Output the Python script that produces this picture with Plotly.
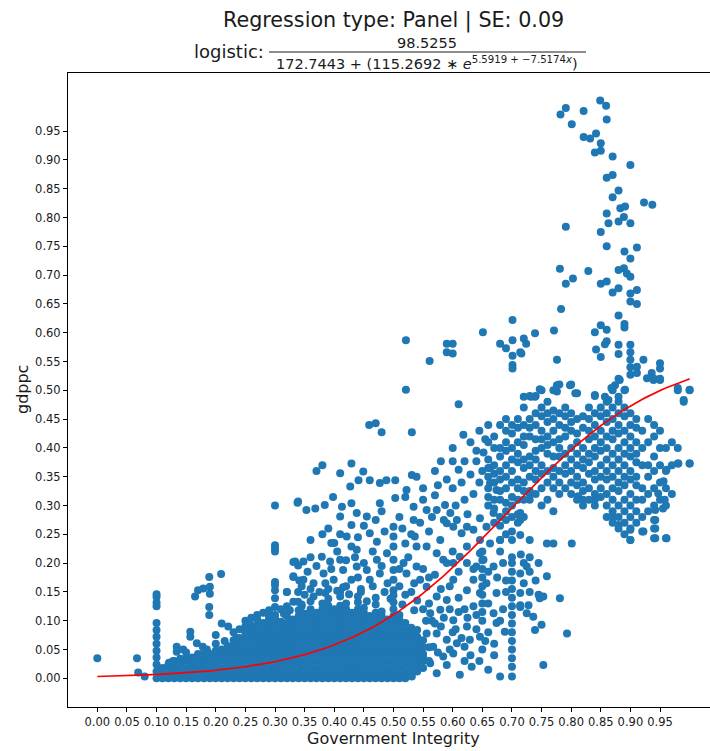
import numpy as np
import plotly.graph_objects as go

# ---------------- data ----------------
# isolated / scattered observations (Government Integrity, gdppc)
pts_x = [0.0, 0.067, 0.069, 0.08,
         0.121, 0.128, 0.134, 0.134, 0.145, 0.15, 0.157, 0.157, 0.165, 0.168, 0.17, 0.179, 0.189, 0.19, 0.19,
         0.189, 0.189, 0.209, 0.2, 0.21, 0.221, 0.23, 0.24, 0.235, 0.178, 0.2, 0.215, 0.25, 0.26, 0.27, 0.28,
         0.29, 0.255, 0.185, 0.227,
         0.30, 0.30, 0.30, 0.30, 0.30, 0.30, 0.30, 0.30, 0.30, 0.30,
         0.338, 0.331, 0.339, 0.32, 0.331, 0.341, 0.331, 0.339, 0.339, 0.31, 0.32, 0.315, 0.325, 0.345, 0.29,
         0.521, 0.61, 0.732, 0.459, 0.47, 0.48, 0.531, 0.618,
         0.521, 0.561, 0.59, 0.6, 0.59, 0.6, 0.651, 0.68, 0.69, 0.701, 0.701, 0.701, 0.701, 0.701, 0.714,
         0.72, 0.724, 0.716, 0.739, 0.771, 0.776,
         0.429, 0.41, 0.449, 0.58, 0.60, 0.62, 0.64, 0.61, 0.63, 0.652, 0.663, 0.66, 0.663, 0.674, 0.66, 0.38, 0.37,
         0.427, 0.441, 0.46, 0.477, 0.488, 0.503, 0.522, 0.531, 0.539, 0.55, 0.57,
         0.339, 0.353, 0.368, 0.384, 0.398, 0.413, 0.41, 0.429, 0.438, 0.455, 0.477, 0.503, 0.52, 0.534, 0.534,
         0.556, 0.573, 0.587, 0.596, 0.607, 0.624, 0.635, 0.646, 0.657, 0.669,
         0.429, 0.421, 0.429, 0.438, 0.46, 0.472, 0.5, 0.5, 0.5, 0.52, 0.536, 0.539, 0.556, 0.579, 0.59, 0.601,
         0.615, 0.624, 0.646, 0.646, 0.663, 0.68, 0.38, 0.39, 0.36, 0.40,
         0.334, 0.348, 0.379, 0.393, 0.41, 0.331, 0.348, 0.32, 0.365, 0.382, 0.399, 0.415, 0.429, 0.438, 0.455,
         0.46, 0.472, 0.477, 0.489, 0.5, 0.5, 0.5, 0.5, 0.517, 0.522, 0.539, 0.545, 0.556, 0.573, 0.584, 0.601,
         0.612, 0.624, 0.64, 0.652, 0.669, 0.714, 0.725, 0.601, 0.635, 0.657, 0.624, 0.646, 0.674, 0.714, 0.573,
         0.59, 0.36, 0.375, 0.39, 0.41, 0.42, 0.445, 0.465, 0.485, 0.51, 0.53, 0.35, 0.44, 0.52, 0.54, 0.55, 0.56,
         0.562, 0.579, 0.601, 0.624, 0.573, 0.59, 0.607, 0.629, 0.646, 0.669, 0.674, 0.714, 0.725, 0.68, 0.612,
         0.632, 0.531, 0.562, 0.584, 0.601, 0.567, 0.556, 0.55, 0.573, 0.59, 0.73, 0.747, 0.781, 0.714, 0.728,
         0.736, 0.75, 0.739, 0.793, 0.753, 0.688, 0.69, 0.69, 0.745, 0.753, 0.73, 0.759, 0.73, 0.759, 0.77, 0.801,
         0.72, 0.62, 0.64, 0.66, 0.61, 0.65, 0.67, 0.66, 0.63, 0.58, 0.565, 0.6, 0.62,
         0.849, 0.859, 0.791, 0.782, 0.821, 0.86, 0.801, 0.821, 0.832, 0.842, 0.85, 0.84, 0.85, 0.87, 0.9, 0.86,
         0.87, 0.88, 0.87, 0.923, 0.937, 0.883, 0.891, 0.86, 0.889, 0.88, 0.863, 0.9, 0.85, 0.791, 0.86, 0.89,
         0.9, 0.911, 0.781, 0.803, 0.829, 0.791, 0.88, 0.889, 0.894, 0.9, 0.85, 0.86, 0.87, 0.88, 0.9, 0.911,
         0.9, 0.911, 0.783, 0.88, 0.85, 0.86, 0.84, 0.89, 0.89, 0.86, 0.857, 0.842, 0.85, 0.88, 0.88, 0.9, 0.9,
         0.9, 0.9, 0.9, 0.911, 0.911, 0.922, 0.95, 0.95, 0.936, 0.928, 0.939, 0.95, 0.882, 0.874, 0.868, 0.891,
         0.98, 1.0, 0.99, 0.747, 0.72, 0.739, 0.776, 0.776, 0.798, 0.807, 0.84, 0.857, 0.863, 0.88, 0.981, 1.0,
         0.961, 0.956, 0.947, 0.958, 0.955, 0.942, 0.942, 0.942, 0.812, 0.82, 0.84, 0.87, 0.88, 0.9, 0.9, 0.922,
         0.942, 0.961, 0.714, 0.714, 0.714, 0.73, 0.75, 0.77, 0.76,
         0.355, 0.37, 0.385, 0.395, 0.405, 0.42, 0.435, 0.45, 0.465, 0.48, 0.49, 0.51, 0.525, 0.535, 0.55, 0.56,
         0.345, 0.36, 0.45, 0.47, 0.485, 0.515, 0.53, 0.545, 0.56, 0.44, 0.41, 0.395, 0.48, 0.51, 0.55, 0.565,
         0.555, 0.57, 0.585, 0.595, 0.61, 0.625, 0.635, 0.605, 0.615, 0.64, 0.655, 0.67, 0.68, 0.685, 0.675,
         0.685, 0.68, 0.66, 0.635, 0.61, 0.595, 0.58, 0.57, 0.59, 0.6, 0.575, 0.595, 0.62, 0.645, 0.66, 0.72,
         0.74, 0.715, 0.73, 0.745,
         0.575, 0.59, 0.6, 0.615, 0.62, 0.635, 0.645, 0.65, 0.64, 0.63, 0.645, 0.655, 0.66, 0.605, 0.625,
         0.585, 0.6, 0.57,
         0.365, 0.385, 0.405, 0.425, 0.445, 0.47, 0.495, 0.515, 0.345, 0.415, 0.455, 0.535]
pts_y = [0.035, 0.035, 0.01, 0.003,
         0.027, 0.03, 0.055, 0.046, 0.05, 0.045, 0.081, 0.072, 0.142, 0.061, 0.153, 0.156, 0.176, 0.159, 0.147,
         0.124, 0.11, 0.181, 0.075, 0.095, 0.09, 0.08, 0.085, 0.07, 0.055, 0.06, 0.065, 0.10, 0.105, 0.11, 0.114,
         0.108, 0.098, 0.05, 0.055,
         0.30, 0.231, 0.225, 0.22, 0.167, 0.162, 0.153, 0.139, 0.124, 0.11,
         0.305, 0.202, 0.196, 0.15, 0.176, 0.17, 0.133, 0.133, 0.15, 0.12, 0.125, 0.112, 0.118, 0.125, 0.118,
         0.501, 0.476, 0.489, 0.44, 0.443, 0.427, 0.427, 0.423,
         0.587, 0.551, 0.581, 0.581, 0.566, 0.564, 0.601, 0.581, 0.573, 0.622, 0.587, 0.56, 0.544, 0.538, 0.566,
         0.59, 0.581, 0.564, 0.599, 0.604, 0.553,
         0.373, 0.356, 0.359, 0.377, 0.377, 0.377, 0.377, 0.362, 0.354, 0.392, 0.365, 0.35, 0.339, 0.327, 0.315, 0.37, 0.36,
         0.333, 0.344, 0.344, 0.339, 0.344, 0.344, 0.327, 0.353, 0.35, 0.33, 0.318,
         0.307, 0.292, 0.295, 0.301, 0.315, 0.298, 0.281, 0.304, 0.287, 0.281, 0.304, 0.313, 0.315, 0.298, 0.275,
         0.292, 0.292, 0.301, 0.287, 0.275, 0.263, 0.258, 0.278, 0.263, 0.287,
         0.266, 0.246, 0.229, 0.223, 0.252, 0.237, 0.263, 0.246, 0.229, 0.234, 0.246, 0.229, 0.229, 0.24, 0.269, 0.263,
         0.252, 0.229, 0.217, 0.24, 0.234, 0.24, 0.25, 0.26, 0.24, 0.235,
         0.203, 0.203, 0.211, 0.203, 0.206, 0.177, 0.171, 0.15, 0.165, 0.182, 0.171, 0.188, 0.171, 0.194, 0.188,
         0.171, 0.206, 0.182, 0.217, 0.206, 0.188, 0.171, 0.153, 0.2, 0.182, 0.194, 0.171, 0.159, 0.217, 0.206, 0.2,
         0.211, 0.2, 0.194, 0.206, 0.194, 0.182, 0.194, 0.171, 0.171, 0.165, 0.153, 0.148, 0.148, 0.148, 0.142,
         0.136, 0.155, 0.15, 0.155, 0.15, 0.16, 0.155, 0.16, 0.15, 0.16, 0.15, 0.145, 0.175, 0.145, 0.135, 0.12, 0.13,
         0.113, 0.119, 0.101, 0.09, 0.078, 0.067, 0.061, 0.067, 0.072, 0.113, 0.096, 0.124, 0.113, 0.003, 0.006,
         0.02, 0.003, 0.026, 0.038, 0.043, 0.055, 0.078, 0.038, 0.009, 0.023, 0.15, 0.139, 0.139, 0.127, 0.127,
         0.107, 0.093, 0.084, 0.078, 0.023, 0.081, 0.15, 0.17, 0.145, 0.142, 0.185, 0.177, 0.24, 0.234, 0.234, 0.234,
         0.2, 0.12, 0.11, 0.13, 0.14, 0.05, 0.04, 0.08, 0.04, 0.09, 0.1, 0.08, 0.03,
         1.003, 0.994, 0.99, 0.979, 0.985, 0.97, 0.962, 0.94, 0.937, 0.946, 0.929, 0.913, 0.916, 0.906, 0.891, 0.869,
         0.874, 0.847, 0.835, 0.826, 0.822, 0.816, 0.819, 0.807, 0.801, 0.793, 0.79, 0.79, 0.775, 0.784, 0.75, 0.741,
         0.729, 0.748, 0.711, 0.694, 0.707, 0.685, 0.709, 0.712, 0.703, 0.697, 0.685, 0.689, 0.67, 0.677, 0.668, 0.674,
         0.654, 0.65, 0.641, 0.63, 0.613, 0.605, 0.601, 0.609, 0.615, 0.585, 0.58, 0.571, 0.558, 0.579, 0.563, 0.579, 0.566,
         0.553, 0.54, 0.527, 0.541, 0.53, 0.553, 0.547, 0.538, 0.53, 0.521, 0.518, 0.518, 0.518, 0.509, 0.504, 0.501,
         0.504, 0.501, 0.483, 0.502, 0.489, 0.489, 0.509, 0.498, 0.509, 0.495, 0.492, 0.489, 0.483, 0.489, 0.373, 0.373,
         0.362, 0.342, 0.321, 0.31, 0.295, 0.292, 0.275, 0.26, 0.316, 0.31, 0.31, 0.281, 0.266, 0.258, 0.24, 0.255,
         0.243, 0.243, 0.287, 0.275, 0.249, 0.32, 0.30, 0.29, 0.31,
         0.185, 0.195, 0.165, 0.19, 0.22, 0.205, 0.21, 0.2, 0.22, 0.195, 0.165, 0.19, 0.21, 0.165, 0.19, 0.175,
         0.16, 0.21, 0.265, 0.275, 0.255, 0.26, 0.25, 0.27, 0.255, 0.245, 0.25, 0.235, 0.29, 0.28, 0.31, 0.28,
         0.1, 0.095, 0.105, 0.12, 0.115, 0.105, 0.125, 0.085, 0.07, 0.085, 0.065, 0.06, 0.1, 0.12, 0.175,
         0.2, 0.22, 0.185, 0.19, 0.185, 0.16, 0.155, 0.18, 0.2, 0.22, 0.045, 0.05, 0.055, 0.03, 0.015, 0.165,
         0.17, 0.215, 0.21, 0.2,
         0.335, 0.345, 0.33, 0.34, 0.31, 0.32, 0.34, 0.36, 0.395, 0.41, 0.43, 0.415, 0.44, 0.3, 0.285,
         0.275, 0.4, 0.36,
         0.142, 0.148, 0.152, 0.146, 0.15, 0.14, 0.138, 0.128, 0.128, 0.158, 0.134, 0.118]

# vertical stripes of repeated integrity scores
stripe_x = [0.70, 0.65]
stripe_y = [[0.003, 0.02, 0.035, 0.05, 0.065, 0.08, 0.095, 0.11, 0.125, 0.14, 0.155, 0.17, 0.185, 0.2, 0.21],
            [0.1, 0.115, 0.13, 0.145, 0.16, 0.175, 0.19, 0.205, 0.22]]

# dense low band (integrity 0.10 - 0.56)
band_x = [0.10, 0.11, 0.12, 0.13, 0.14, 0.15, 0.16, 0.17, 0.18, 0.19, 0.20, 0.21, 0.22, 0.23, 0.24, 0.25,
          0.26, 0.27, 0.28, 0.29, 0.30, 0.31, 0.32, 0.33, 0.34, 0.35, 0.36, 0.37, 0.38, 0.39, 0.40, 0.41,
          0.42, 0.43, 0.44, 0.45, 0.46, 0.47, 0.48, 0.49, 0.50, 0.51, 0.52, 0.53, 0.54, 0.55, 0.56]
band_y = [
    [0.0, 0.012, 0.024, 0.036, 0.048, 0.06, 0.072, 0.084, 0.096, 0.125, 0.131, 0.141, 0.146],
    [0.0, 0.006, 0.018],
    [0.0, 0.012, 0.024],
    [0.0, 0.006, 0.018, 0.03],
    [0.0, 0.012, 0.024, 0.034],
    [0.0, 0.006, 0.018, 0.03, 0.036],
    [0.0, 0.012, 0.024, 0.036],
    [0.0, 0.006, 0.018, 0.03, 0.042],
    [0.0, 0.012, 0.024, 0.036, 0.045],
    [0.0, 0.006, 0.018, 0.03, 0.042],
    [0.0, 0.012, 0.024, 0.036, 0.048],
    [0.0, 0.006, 0.018, 0.03, 0.042, 0.05],
    [0.0, 0.012, 0.024, 0.036, 0.048, 0.056],
    [0.0, 0.006, 0.018, 0.03, 0.042, 0.054, 0.066],
    [0.0, 0.012, 0.024, 0.036, 0.048, 0.06, 0.07],
    [0.0, 0.006, 0.018, 0.03, 0.042, 0.054, 0.066, 0.078, 0.09],
    [0.0, 0.012, 0.024, 0.036, 0.048, 0.06, 0.072, 0.084, 0.092],
    [0.0, 0.006, 0.018, 0.03, 0.042, 0.054, 0.066, 0.078, 0.09, 0.102],
    [0.0, 0.012, 0.024, 0.036, 0.048, 0.06, 0.072, 0.084, 0.096],
    [0.0, 0.006, 0.018, 0.03, 0.042, 0.054, 0.066, 0.078, 0.09, 0.102, 0.108],
    [0.0, 0.012, 0.024, 0.036, 0.048, 0.06, 0.072, 0.084, 0.096, 0.104],
    [0.0, 0.006, 0.018, 0.03, 0.042, 0.054, 0.066, 0.078, 0.09, 0.098],
    [0.0, 0.012, 0.024, 0.036, 0.048, 0.06, 0.072, 0.084, 0.096, 0.108],
    [0.0, 0.006, 0.018, 0.03, 0.042, 0.054, 0.066, 0.078, 0.09, 0.102],
    [0.0, 0.012, 0.024, 0.036, 0.048, 0.06, 0.072, 0.084, 0.096, 0.108, 0.118],
    [0.0, 0.006, 0.018, 0.03, 0.042, 0.054, 0.066, 0.078, 0.09, 0.102, 0.112],
    [0.0, 0.012, 0.024, 0.036, 0.048, 0.06, 0.072, 0.084, 0.096, 0.108, 0.12, 0.134],
    [0.0, 0.006, 0.018, 0.03, 0.042, 0.054, 0.066, 0.078, 0.09, 0.102, 0.114],
    [0.0, 0.012, 0.024, 0.036, 0.048, 0.06, 0.072, 0.084, 0.096, 0.108, 0.12, 0.13],
    [0.0, 0.006, 0.018, 0.03, 0.042, 0.054, 0.066, 0.078, 0.09, 0.102, 0.114, 0.126, 0.138],
    [0.0, 0.012, 0.024, 0.036, 0.048, 0.06, 0.072, 0.084, 0.096, 0.108, 0.12],
    [0.0, 0.006, 0.018, 0.03, 0.042, 0.054, 0.066, 0.078, 0.09, 0.102, 0.114, 0.126, 0.142],
    [0.0, 0.012, 0.024, 0.036, 0.048, 0.06, 0.072, 0.084, 0.096, 0.108, 0.12, 0.13],
    [0.0, 0.006, 0.018, 0.03, 0.042, 0.054, 0.066, 0.078, 0.09, 0.102, 0.114],
    [0.0, 0.012, 0.024, 0.036, 0.048, 0.06, 0.072, 0.084, 0.096, 0.108, 0.12, 0.132, 0.142],
    [0.0, 0.006, 0.018, 0.03, 0.042, 0.054, 0.066, 0.078, 0.09, 0.102, 0.114, 0.122],
    [0.0, 0.012, 0.024, 0.036, 0.048, 0.06, 0.072, 0.084, 0.096, 0.108],
    [0.0, 0.006, 0.018, 0.03, 0.042, 0.054, 0.066, 0.078, 0.09, 0.102, 0.114, 0.128],
    [0.0, 0.012, 0.024, 0.036, 0.048, 0.06, 0.072, 0.084, 0.096, 0.108, 0.116],
    [0.0, 0.006, 0.018, 0.03, 0.042, 0.054, 0.066, 0.078, 0.09, 0.102],
    [0.0, 0.012, 0.024, 0.036, 0.048, 0.06, 0.072, 0.084, 0.096, 0.108, 0.12, 0.132, 0.144],
    [0.0, 0.006, 0.018, 0.03, 0.042, 0.054, 0.066, 0.078, 0.09, 0.102, 0.11],
    [0.0, 0.012, 0.024, 0.036, 0.048, 0.06, 0.072, 0.084, 0.096],
    [0.006, 0.018, 0.03, 0.042, 0.054, 0.066, 0.078, 0.088],
    [0.012, 0.024, 0.036, 0.048, 0.06, 0.072, 0.084],
    [0.018, 0.03, 0.042, 0.054, 0.066],
    [0.03, 0.054],
]

# dense upper-right cluster (integrity 0.66 - 1.00)
cluster_x = [0.66, 0.67, 0.68, 0.69, 0.70, 0.71, 0.72, 0.73, 0.74, 0.75, 0.76, 0.77, 0.78, 0.79, 0.80, 0.81,
             0.82, 0.83, 0.84, 0.85, 0.86, 0.87, 0.88, 0.89, 0.90, 0.91, 0.92, 0.93, 0.94, 0.95, 0.96, 0.97,
             0.98, 0.99, 1.00]
cluster_y = [
    [0.30, 0.33, 0.365, 0.38, 0.41],
    [0.27, 0.295, 0.31, 0.34, 0.355, 0.37, 0.40, 0.42],
    [0.24, 0.265, 0.28, 0.31, 0.325, 0.345, 0.36, 0.385, 0.40, 0.44],
    [0.25, 0.275, 0.29, 0.305, 0.33, 0.35, 0.37, 0.395, 0.41, 0.43, 0.45],
    [0.24, 0.255, 0.28, 0.30, 0.315, 0.34, 0.36, 0.38, 0.40, 0.425, 0.44],
    [0.27, 0.285, 0.31, 0.33, 0.345, 0.375, 0.39, 0.41, 0.435, 0.45],
    [0.28, 0.31, 0.325, 0.34, 0.365, 0.38, 0.405, 0.42, 0.44, 0.47],
    [0.31, 0.325, 0.35, 0.37, 0.385, 0.42, 0.435, 0.45, 0.49],
    [0.32, 0.345, 0.36, 0.38, 0.395, 0.415, 0.44, 0.46, 0.49],
    [0.33, 0.355, 0.37, 0.40, 0.415, 0.43, 0.455, 0.47, 0.50],
    [0.34, 0.36, 0.39, 0.405, 0.42, 0.445, 0.46, 0.48],
    [0.33, 0.35, 0.365, 0.385, 0.41, 0.43, 0.45, 0.465, 0.50],
    [0.32, 0.34, 0.36, 0.385, 0.40, 0.415, 0.44, 0.46, 0.51],
    [0.33, 0.355, 0.37, 0.39, 0.42, 0.435, 0.455, 0.47],
    [0.32, 0.34, 0.36, 0.38, 0.40, 0.43, 0.445, 0.46, 0.51],
    [0.31, 0.335, 0.35, 0.37, 0.39, 0.41, 0.425, 0.45, 0.495],
    [0.30, 0.325, 0.34, 0.365, 0.38, 0.40, 0.435, 0.455],
    [0.31, 0.33, 0.355, 0.375, 0.39, 0.415, 0.43, 0.45, 0.47],
    [0.30, 0.32, 0.345, 0.36, 0.385, 0.40, 0.42, 0.44, 0.46, 0.49],
    [0.315, 0.33, 0.35, 0.37, 0.395, 0.41, 0.43, 0.455, 0.47],
    [0.28, 0.30, 0.32, 0.345, 0.36, 0.38, 0.40, 0.42, 0.445, 0.46, 0.48],
    [0.27, 0.29, 0.31, 0.33, 0.35, 0.37, 0.39, 0.415, 0.43, 0.45, 0.47, 0.50],
    [0.26, 0.28, 0.30, 0.325, 0.34, 0.36, 0.38, 0.40, 0.425, 0.44, 0.46, 0.48, 0.52],
    [0.25, 0.27, 0.29, 0.31, 0.335, 0.35, 0.37, 0.39, 0.41, 0.43, 0.455, 0.47, 0.50],
    [0.24, 0.26, 0.28, 0.30, 0.32, 0.345, 0.36, 0.385, 0.40, 0.42, 0.44, 0.46],
    [0.27, 0.29, 0.31, 0.335, 0.35, 0.375, 0.39, 0.41, 0.435, 0.45],
    [0.255, 0.28, 0.31, 0.33, 0.37, 0.40, 0.43],
    [0.29, 0.32, 0.35, 0.37, 0.41, 0.45],
    [0.243, 0.26, 0.275, 0.30, 0.33, 0.36, 0.385, 0.42, 0.44, 0.52],
    [0.31, 0.34, 0.37, 0.40, 0.43, 0.52],
    [0.243, 0.30, 0.33, 0.36, 0.40],
    [0.32, 0.37, 0.41],
    [0.373, 0.40, 0.50],
    [0.48],
    [0.373, 0.50],
]

# fitted logistic curve coefficients (shown in the title)
fit_a = [98.5255]
fit_b = [172.7443]
fit_c = [115.2692]
fit_d = [5.5919]
fit_k = [-7.5174]
fit_range = [0.0, 1.0]

tick_vals = [0.00, 0.05, 0.10, 0.15, 0.20, 0.25, 0.30, 0.35, 0.40, 0.45,
             0.50, 0.55, 0.60, 0.65, 0.70, 0.75, 0.80, 0.85, 0.90, 0.95]
tick_text = ["0.00", "0.05", "0.10", "0.15", "0.20", "0.25", "0.30", "0.35", "0.40", "0.45",
             "0.50", "0.55", "0.60", "0.65", "0.70", "0.75", "0.80", "0.85", "0.90", "0.95"]

# ---------------- assemble ----------------
xs, ys = list(pts_x), list(pts_y)
for groups_x, groups_y in ((band_x, band_y), (cluster_x, cluster_y), (stripe_x, stripe_y)):
    for gx, gy in zip(groups_x, groups_y):
        xs.extend([gx] * len(gy))
        ys.extend(gy)

cx = np.linspace(fit_range[0], fit_range[1], 200)
cy = fit_a[0] / (fit_b[0] + fit_c[0] * np.exp(fit_d[0] + fit_k[0] * cx))

W, H = 710, 751
ML, MR, MT, MB = 68, 0, 73, 44
x_range = [-0.0495, 1.0344]
y_range = [-0.0498, 1.0509]

def px(xp):
    return (xp - ML) / (W - ML - MR)

def py(yp):
    return (H - MB - yp) / (H - MT - MB)

FONT = "DejaVu Sans"
TXT = "#1a1a1a"

fig = go.Figure()
fig.add_trace(go.Scatter(x=xs, y=ys, mode="markers",
                         marker=dict(size=8, color="#1f77b4", line=dict(width=0)),
                         hoverinfo="skip", showlegend=False))
fig.add_trace(go.Scatter(x=cx, y=cy, mode="lines",
                         line=dict(color="red", width=1.7), hoverinfo="skip", showlegend=False))

axis_common = dict(showgrid=False, zeroline=False, showline=True, linecolor="#000000", linewidth=1,
                   ticks="outside", ticklen=4, tickwidth=1, tickcolor="#000000",
                   tickfont=dict(family=FONT, size=11.5, color=TXT),
                   tickvals=tick_vals, ticktext=tick_text)

fig.update_layout(
    width=W, height=H,
    margin=dict(l=ML, r=MR, t=MT, b=MB, pad=0),
    paper_bgcolor="white", plot_bgcolor="white",
    xaxis=dict(range=x_range, mirror=True, **axis_common),
    yaxis=dict(range=y_range, mirror=False, **axis_common),
    font=dict(family=FONT, color=TXT),
)

ann = []
ann.append(dict(text="Regression type: Panel | SE: 0.09", x=px(394), y=py(20), xref="paper", yref="paper",
                xanchor="center", yanchor="middle", showarrow=False, font=dict(size=20.7, family=FONT, color=TXT)))
ann.append(dict(text="logistic:", x=px(266), y=py(52), xref="paper", yref="paper",
                xanchor="right", yanchor="middle", showarrow=False, font=dict(size=18, family=FONT, color=TXT)))
ann.append(dict(text="98.5255", x=px(427), y=py(43), xref="paper", yref="paper",
                xanchor="center", yanchor="middle", showarrow=False, font=dict(size=14.5, family=FONT, color=TXT)))
ann.append(dict(text="172.7443 + (115.2692 ∗ <i>e</i><sup>5.5919 + −7.5174<i>x</i></sup>)",
                x=px(427), y=py(63), xref="paper", yref="paper",
                xanchor="center", yanchor="middle", showarrow=False, font=dict(size=14.5, family=FONT, color=TXT)))
ann.append(dict(text="gdppc", x=px(22), y=py(390), xref="paper", yref="paper", textangle=-90,
                xanchor="center", yanchor="middle", showarrow=False, font=dict(size=16, family=FONT, color=TXT)))
ann.append(dict(text="Government Integrity", x=px(394), y=py(738), xref="paper", yref="paper",
                xanchor="center", yanchor="middle", showarrow=False, font=dict(size=16, family=FONT, color=TXT)))
fig.update_layout(annotations=ann)

fig.add_shape(type="line", xref="paper", yref="paper", x0=px(269), x1=px(586), y0=py(52), y1=py(52),
              line=dict(color=TXT, width=1))

fig.write_html("out.html")
